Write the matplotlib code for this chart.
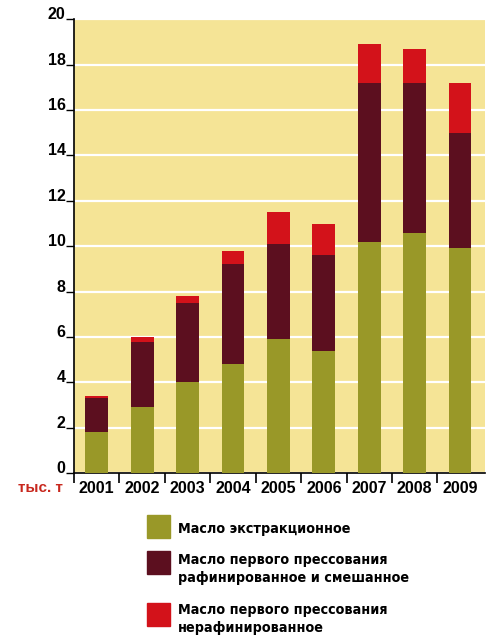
import matplotlib.pyplot as plt
import numpy as np
from matplotlib.patches import Rectangle
from matplotlib import font_manager

# данные
years = ['2001', '2002', '2003', '2004', '2005', '2006', '2007', '2008', '2009']
extraction = [1.8, 2.9, 4.0, 4.8, 5.9, 5.4, 10.2, 10.6, 9.9]
first_refined = [1.5, 2.9, 3.5, 4.4, 4.2, 4.2, 7.0, 6.6, 5.1]
first_unrefined = [0.1, 0.2, 0.3, 0.6, 1.4, 1.4, 1.7, 1.5, 2.2]

labels = ['Масло экстракционное',
          'Масло первого прессования\nрафинированное и смешанное',
          'Масло первого прессования\nнерафинированное']
colors = ['#999828', '#5C0F1F', '#D3121A']

plt.rcParams['font.family'] = ['Liberation Sans', 'DejaVu Sans']

# узкий жирный шрифт для легенды, если есть
narrow = None
for f in font_manager.fontManager.ttflist:
    n = (f.fname + f.name).lower()
    if ('narrow' in n or 'condensed' in n) and f.weight in (700, 'bold'):
        narrow = f.fname
        break

fig = plt.figure(figsize=(4.87, 6.42), dpi=100)
ax = fig.add_axes([0.152, 0.263, 0.844, 0.707])
ax.set_facecolor('#F5E496')

x = np.arange(len(years))
bottom = np.zeros(len(years))
for vals, c in zip([extraction, first_refined, first_unrefined], colors):
    ax.bar(x, vals, width=0.5, bottom=bottom, color=c, zorder=3)
    bottom += np.array(vals)

ax.set_ylim(0, 20)
ax.set_xlim(-0.5, 8.55)
ax.set_yticks(range(0, 21, 2))
ax.yaxis.grid(True, color='white', linewidth=1.6, zorder=1)
ax.set_axisbelow(True)
for s in ['top', 'right']:
    ax.spines[s].set_visible(False)
ax.spines['left'].set_linewidth(1.2)
ax.spines['bottom'].set_linewidth(1.2)

ax.tick_params(axis='y', length=6, width=1, pad=0, labelsize=11.5)
for lab in ax.get_yticklabels():
    lab.set_fontweight('bold')
    lab.set_verticalalignment('baseline')

ax.set_xticks(x)
ax.set_xticklabels(years, fontsize=11.5, fontweight='bold')
ax.tick_params(axis='x', which='major', length=0, pad=6)
ax.set_xticks(np.arange(-0.5, 8, 1), minor=True)
ax.tick_params(axis='x', which='minor', length=7, width=1.2)

fig.text(18 / 487, 1 - 488 / 642, 'тыс. т', color='#C8281E', fontsize=11,
         fontweight='bold', va='center', ha='left')

# легенда
rows = [(515, 529), (551, 569), (603, 619)]
for (ytop, ytext), lab, c in zip(rows, labels, colors):
    fig.add_artist(Rectangle((147 / 487, 1 - (ytop + 23) / 642), 23 / 487, 23 / 642,
                             transform=fig.transFigure, color=c))
    if narrow:
        fp = font_manager.FontProperties(fname=narrow, size=10.3)
    else:
        fp = font_manager.FontProperties(family='Liberation Sans', weight='bold', size=9.5)
    fig.text(178 / 487, 1 - ytext / 642, lab, fontproperties=fp,
             va='center', ha='left', linespacing=1.32)

fig.savefig('out.png', dpi=100)
